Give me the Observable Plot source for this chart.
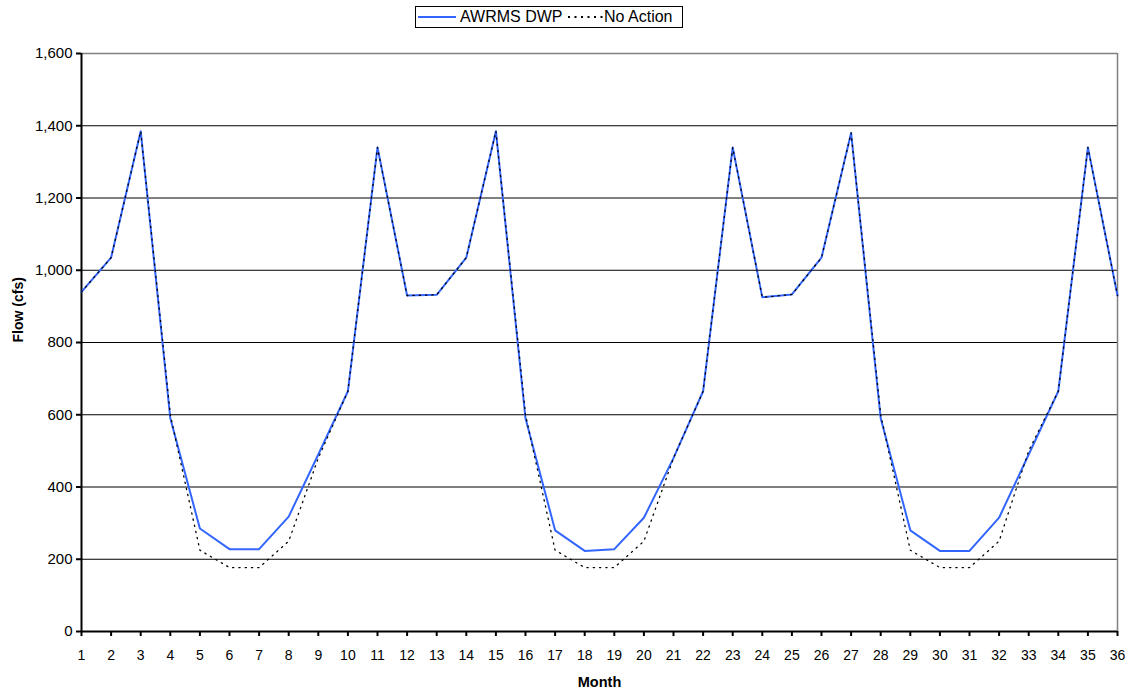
<!DOCTYPE html>
<html><head><meta charset="utf-8">
<script src="https://cdn.jsdelivr.net/npm/d3@7"></script>
<script src="https://cdn.jsdelivr.net/npm/@observablehq/plot@0.6"></script>
<style>
body{margin:0;background:#fff;font-family:"Liberation Sans",Arial,sans-serif;}
#legend{height:36px;position:relative;}
#legend .box{position:absolute;left:415px;top:6px;width:266px;height:20px;border:1.5px solid #000;font-size:16px;color:#000;white-space:nowrap;}
#legend .box span, #legend .box svg{position:absolute;}
</style></head>
<body>
<div id="legend"><div class="box">
<svg style="left:2px;top:5px" width="38" height="10"><line x1="0" x2="38" y1="5" y2="5" stroke="#3366ff" stroke-width="2"/></svg>
<span style="left:44px;top:1px;line-height:18px">AWRMS DWP</span>
<svg style="left:151px;top:5px" width="38" height="10"><line x1="1" x2="38" y1="5" y2="5" stroke="#000" stroke-width="2" stroke-dasharray="2,4.5"/></svg>
<span style="left:188px;top:1px;line-height:18px">No Action</span>
</div></div>
<div id="chart"></div>
<script>
const months = d3.range(1, 37);
const awrmsDwp = [940,1035,1385,590,285,228,228,318,490,665,1340,930,932,1035,1385,590,280,223,228,315,480,665,1340,925,933,1035,1380,590,280,223,223,315,490,665,1340,930];
const noAction = [940,1035,1385,600,225,177,177,250,480,665,1340,930,932,1035,1385,600,225,177,177,250,480,665,1340,925,933,1035,1380,600,225,177,177,250,500,665,1340,930];
const yTicks = [0,200,400,600,800,1000,1200,1400,1600];
const seriesNames = ["AWRMS DWP", "No Action"];

const blue = months.map((m,i)=>({month:m, flow:awrmsDwp[i], series:seriesNames[0]}));
const dotted = months.map((m,i)=>({month:m, flow:noAction[i], series:seriesNames[1]}));

const chart = Plot.plot({
  width: 1137,
  height: 656,
  marginTop: 17,
  marginBottom: 61,
  marginLeft: 81,
  marginRight: 20,
  style: {fontFamily: '"Liberation Sans", Arial, sans-serif', fontSize: "14px", color: "#000", background: "#fff", overflow: "visible"},
  x: {domain: [1, 36], ticks: months, tickFormat: d => d},
  y: {domain: [0, 1600], ticks: yTicks, tickFormat: d3.format(",")},
  marks: [
    Plot.ruleY(yTicks.filter(d => d > 0 && d < 1600), {stroke: "#000", strokeWidth: 1}),
    Plot.ruleY([1600], {stroke: "#808080", strokeWidth: 1.5}),
    Plot.ruleX([36], {stroke: "#808080", strokeWidth: 1.5}),
    Plot.ruleX([1], {stroke: "#000", strokeWidth: 2}),
    Plot.ruleY([0], {stroke: "#000", strokeWidth: 2}),
    Plot.axisX({ticks: months, tickSize: 5, tickPadding: 14, label: null, tickFormat: d => d, stroke: "#000", strokeWidth: 2, fontSize: 14}),
    Plot.axisY({ticks: yTicks, tickSize: 5, tickPadding: 4, label: null, tickFormat: d3.format(","), stroke: "#000", strokeWidth: 2, fontSize: 15}),
    Plot.line(blue, {x: "month", y: "flow", stroke: "#3366ff", strokeWidth: 2}),
    Plot.line(dotted, {x: "month", y: "flow", stroke: "#000", strokeWidth: 1.3, strokeDasharray: "1.3,5"}),
    Plot.text(["Flow (cfs)"], {frameAnchor: "left", dx: -63, rotate: -90, fontWeight: "bold", fontSize: 14}),
    Plot.text(["Month"], {frameAnchor: "bottom", dy: 55, fontWeight: "bold", fontSize: 14.5})
  ]
});
document.getElementById("chart").appendChild(chart);
</script>
</body></html>
